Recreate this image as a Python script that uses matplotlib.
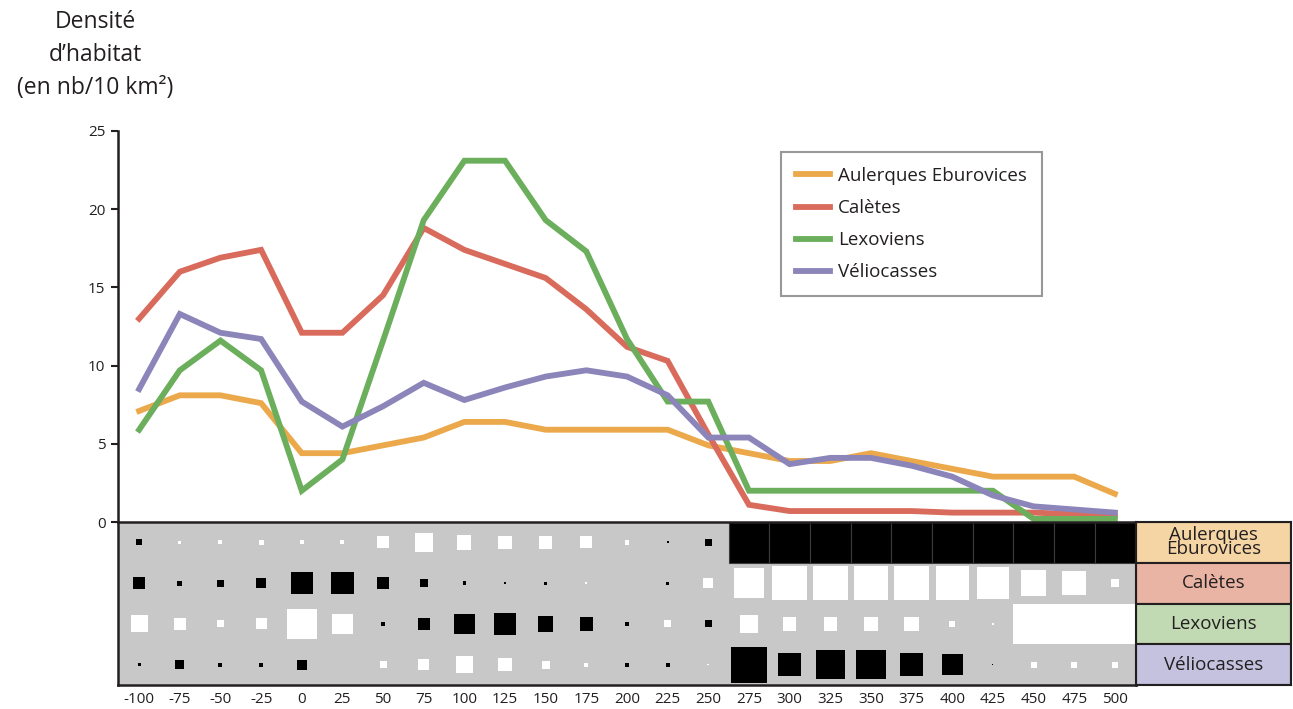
import matplotlib
matplotlib.use("Agg")
import matplotlib.pyplot as plt
from matplotlib.patches import Rectangle

plt.rcParams['font.family'] = ['Open Sans', 'DejaVu Sans']

# distances (axe des x) et peuples
distances = list(range(-100, 501, 25))
peuples = ["Aulerques Eburovices", "Calètes", "Lexoviens", "Véliocasses"]
etiquettes = ["Aulerques\nEburovices", "Calètes", "Lexoviens", "Véliocasses"]

# densité d'habitat (nb / 10 km2)
aulerques = [7.1, 8.1, 8.1, 7.6, 4.4, 4.4, 4.9, 5.4, 6.4, 6.4, 5.9, 5.9, 5.9,
             5.9, 4.9, 4.4, 3.9, 3.9, 4.4, 3.9, 3.4, 2.9, 2.9, 2.9, 1.8]
caletes = [13.0, 16.0, 16.9, 17.4, 12.1, 12.1, 14.5, 18.8, 17.4, 16.5, 15.6, 13.6, 11.2,
           10.3, 5.6, 1.1, 0.7, 0.7, 0.7, 0.7, 0.6, 0.6, 0.6, 0.5, 0.4]
lexoviens = [5.9, 9.7, 11.6, 9.7, 2.0, 4.0, 11.6, 19.3, 23.1, 23.1, 19.3, 17.3, 11.7,
             7.7, 7.7, 2.0, 2.0, 2.0, 2.0, 2.0, 2.0, 2.0, 0.2, 0.2, 0.2]
veliocasses = [8.5, 13.3, 12.1, 11.7, 7.7, 6.1, 7.4, 8.9, 7.8, 8.6, 9.3, 9.7, 9.3,
               8.1, 5.4, 5.4, 3.7, 4.1, 4.1, 3.6, 2.9, 1.7, 1.0, 0.8, 0.6]
densites = [aulerques, caletes, lexoviens, veliocasses]

# matrice des écarts : >0 carré noir, <0 carré blanc, 1 = case pleine
ecart_aulerques = [0.15, -0.08, -0.1, -0.12, -0.1, -0.1, -0.3, -0.45, -0.35, -0.33, -0.33, -0.3, -0.12,
                   0.05, 0.18, 1, 1, 1, 1, 1, 1, 1, 1, 1, 1]
ecart_caletes = [0.28, 0.12, 0.17, 0.25, 0.55, 0.55, 0.3, 0.2, 0.08, 0.04, 0.07, -0.05, -0.02,
                 0.07, -0.25, -0.75, -0.85, -0.85, -0.85, -0.85, -0.82, -0.78, -0.62, -0.6, -0.2]
ecart_lexoviens = [-0.42, -0.3, -0.17, -0.27, -0.75, -0.5, 0.1, 0.3, 0.5, 0.53, 0.38, 0.33, 0.1,
                   -0.17, 0.17, -0.45, -0.33, -0.33, -0.33, -0.35, -0.15, -0.05, -1, -1, -1]
ecart_veliocasses = [0.07, 0.22, 0.1, 0.1, 0.25, 0.0, -0.17, -0.28, -0.42, -0.33, -0.2, -0.1, 0.1,
                     0.1, -0.04, 0.88, 0.55, 0.72, 0.72, 0.55, 0.52, 0.02, -0.15, -0.15, -0.15]
ecarts = [ecart_aulerques, ecart_caletes, ecart_lexoviens, ecart_veliocasses]

couleurs = ['#eba94c', '#d96b5c', '#6bae5c', '#8b85ba']
fonds = ['#f6d5a5', '#eab4a4', '#c1dab4', '#c4c2df']
texte = '#231f20'

W, H = 1293, 709
fig = plt.figure(figsize=(W / 100, H / 100), dpi=100)

# graphique des densités
ax = fig.add_axes([118 / W, 1 - 522 / H, 1018 / W, 391 / H])
for dens, nom, c in zip(densites, peuples, couleurs):
    ax.plot(distances, dens, color=c, lw=4.2, label=nom, solid_joinstyle='miter')
ax.set_xlim(-113, 513)
ax.set_ylim(0, 25)
for s in ['top', 'right', 'bottom']:
    ax.spines[s].set_visible(False)
ax.spines['left'].set_linewidth(1.8)
ax.spines['left'].set_color(texte)
ax.set_xticks([])
ax.set_yticks(range(0, 26, 5))
ax.tick_params(axis='y', direction='out', length=5, width=1.5, color=texte,
               labelsize=11, labelcolor=texte, pad=4)
ax.patch.set_alpha(0)

leg = ax.legend(loc='upper left', bbox_to_anchor=(781 / W, 1 - 152 / H),
                bbox_transform=fig.transFigure, frameon=True, fancybox=False,
                edgecolor='#7f7f7f', fontsize=13.5, handlelength=1.8, handletextpad=0.45,
                labelspacing=0.75, borderpad=0.8, borderaxespad=0)
leg.get_frame().set_linewidth(1.5)
for t in leg.get_texts():
    t.set_color(texte)

# matrice
axm = fig.add_axes([118 / W, 1 - 685 / H, 1018 / W, 163 / H])
axm.set_facecolor('#c8c8c8')
axm.set_xlim(-113, 513)
axm.set_ylim(0, 4)
for r, ligne in enumerate(ecarts):
    yc = 3.5 - r
    for x, v in zip(distances, ligne):
        t = abs(v)
        if t == 0:
            continue
        fc = 'black' if v > 0 else 'white'
        ec = '#3a3a3a' if (t >= 1 and v > 0) else 'none'
        axm.add_patch(Rectangle((x - 12.5 * t, yc - 0.5 * t), 25 * t, t,
                                facecolor=fc, edgecolor=ec, lw=0.8))
for s in axm.spines.values():
    s.set_linewidth(1.8)
    s.set_color(texte)
axm.set_yticks([])
axm.set_xticks(distances)
axm.set_xticklabels([str(d) for d in distances])
axm.tick_params(axis='x', length=0, pad=5, labelsize=11, labelcolor=texte)

# étiquettes des peuples
axl = fig.add_axes([1136 / W, 1 - 685 / H, 155 / W, 163 / H])
axl.set_xlim(0, 1)
axl.set_ylim(0, 4)
for r, (lab, fc) in enumerate(zip(etiquettes, fonds)):
    axl.add_patch(Rectangle((0, 3 - r), 1, 1, facecolor=fc, edgecolor=texte, lw=1.5))
    axl.text(0.5, 3.5 - r, lab, ha='center', va='center', fontsize=13.5,
             color=texte, linespacing=0.72)
axl.set_xticks([])
axl.set_yticks([])
for s in axl.spines.values():
    s.set_linewidth(1.5)
    s.set_color(texte)

# titre de l'axe
for txt, y in [("Densité", 22), ("d’habitat", 55), ("(en nb/10 km²)", 88)]:
    fig.text(95 / W, 1 - y / H, txt, ha='center', va='center', fontsize=16.5, color=texte)

fig.savefig("out.png", dpi=100)
